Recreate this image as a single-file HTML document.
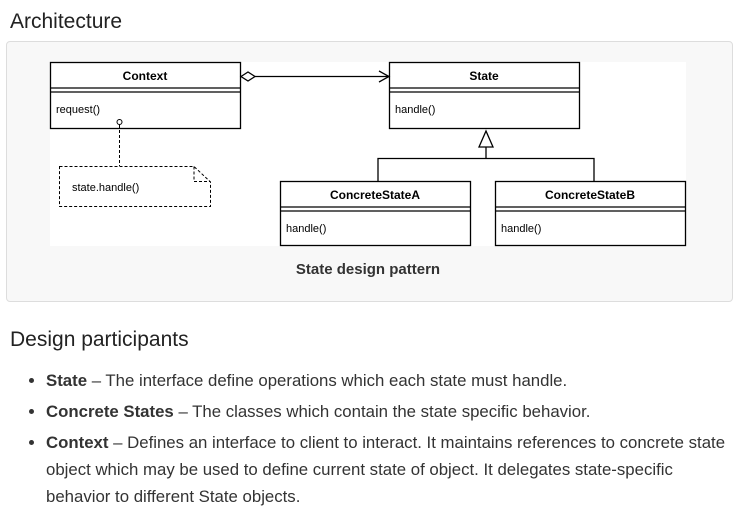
<!DOCTYPE html>
<html><head><meta charset="utf-8"><style>
body{margin:0;width:745px;height:516px;background:#fff;font-family:"Liberation Sans",sans-serif;color:#212529;position:relative;overflow:hidden}
h2{position:absolute;margin:0;font-weight:normal;font-size:21px;color:#222}
.panel{position:absolute;left:6px;top:41px;width:725px;height:259px;background:#f8f8f8;border:1px solid #ddd;border-radius:4px}
ul{position:absolute;left:28px;top:367px;margin:0;padding-left:18px;font-size:16.8px;line-height:27px;color:#333;width:700px;white-space:nowrap}
li{margin-bottom:4px}
</style></head><body>
<h2 style="left:10px;top:10px">Architecture</h2>
<div class="panel"></div>
<svg style="position:absolute;left:0;top:0" width="745" height="300" font-family="Liberation Sans, sans-serif">
<rect x="50" y="62" width="636" height="184" fill="#fff"/>
<g fill="none" stroke="#000" stroke-width="1.3">
<rect x="50.5" y="62.5" width="190" height="66"/><line x1="50" y1="88" x2="240" y2="88"/><line x1="50" y1="92" x2="240" y2="92"/>
<rect x="389.5" y="62.5" width="190" height="66"/><line x1="389" y1="88" x2="579" y2="88"/><line x1="389" y1="92" x2="579" y2="92"/>
<rect x="280.5" y="181.5" width="190" height="64"/><line x1="280" y1="207" x2="470" y2="207"/><line x1="280" y1="211" x2="470" y2="211"/>
<rect x="495.5" y="181.5" width="190" height="64"/><line x1="495" y1="207" x2="685" y2="207"/><line x1="495" y1="211" x2="685" y2="211"/>
<line x1="255" y1="76.5" x2="389" y2="76.5"/>
<path d="M241,76.5 L248,72 L255,76.5 L248,81 Z" fill="#fff"/>
<path d="M379,71 L389,76.5 L379,82"/>
<path d="M486,131 L479,147 L493,147 Z" fill="#fff"/>
<path d="M486,147 V158.5 M378,181 V158.5 H594 V181"/>
<circle cx="119.5" cy="122" r="2.5" fill="#fff" stroke-width="1"/>
<g stroke-dasharray="3,2" stroke-width="1">
<line x1="119.5" y1="125" x2="119.5" y2="166"/>
<path d="M59.5,166.5 H194 L210.5,182 V206.5 H59.5 Z"/>
<path d="M194,166.5 V181.5 H210.5"/>
</g>
</g>
<g font-size="12" font-weight="bold" text-anchor="middle">
<text x="145" y="80">Context</text><text x="484" y="80">State</text>
<text x="375" y="199">ConcreteStateA</text><text x="590" y="199">ConcreteStateB</text>
</g>
<g font-size="11">
<text x="56" y="113">request()</text><text x="395" y="113">handle()</text>
<text x="286" y="232">handle()</text><text x="501" y="232">handle()</text>
<text x="72" y="191">state.handle()</text>
</g>
<text x="368" y="274" font-size="15" font-weight="bold" text-anchor="middle" fill="#333">State design pattern</text>
</svg>
<h2 style="left:10px;top:328px">Design participants</h2>
<ul>
<li><b>State</b> – The interface define operations which each state must handle.</li>
<li><b>Concrete States</b> – The classes which contain the state specific behavior.</li>
<li><b>Context</b> – Defines an interface to client to interact. It maintains references to concrete state<br>object which may be used to define current state of object. It delegates state-specific<br>behavior to different State objects.</li>
</ul>
</body></html>
